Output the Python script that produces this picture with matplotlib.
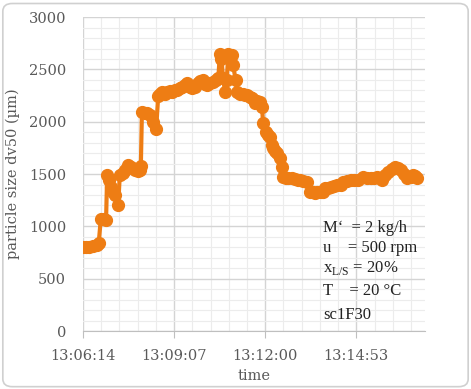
"""
Particle size dv50 over time, run sc1F30
"""
import numpy as np
import matplotlib.pyplot as plt
from matplotlib.patches import FancyBboxPatch
from matplotlib.ticker import MultipleLocator

# seconds after 13:06:14
t_sec = [0, 6, 12, 19, 26, 30, 34, 40, 44, 46, 50, 53, 57, 61, 67, 70, 76, 80, 86, 92,
         99, 104, 108, 110, 112, 117, 122, 127, 133, 139, 143, 147, 150, 155, 160, 165, 169, 174, 179, 184,
         188, 193, 198, 203, 208, 213, 218, 222, 228, 232, 236, 241, 247, 252, 257, 260, 263, 266, 270, 273,
         276, 279, 283, 285, 290, 293, 298, 303, 308, 312, 317, 321, 327, 331, 336, 340, 342, 347, 352, 355,
         358, 361, 365, 369, 374, 378, 380, 385, 390, 396, 403, 408, 413, 418, 426, 431, 436, 441, 445, 451,
         456, 460, 465, 470, 476, 483, 489, 494, 501, 508, 515, 523, 532, 539, 546, 552, 559, 564, 568, 574,
         580, 586, 593, 598, 603, 610, 616, 622, 627, 631, 635]
dv50 = [800, 800, 805, 810, 820, 840, 1070, 1070, 1065, 1490, 1440, 1380, 1330, 1300, 1200, 1490, 1510, 1540, 1585, 1570,
        1540, 1530, 1540, 1580, 2090, 2080, 2085, 2060, 2000, 1930, 2250, 2270, 2280, 2270, 2280, 2290, 2285, 2300, 2300, 2320,
        2330, 2350, 2370, 2330, 2320, 2330, 2370, 2390, 2400, 2360, 2350, 2370, 2380, 2400, 2420, 2645, 2600, 2420, 2280, 2400,
        2650, 2600, 2640, 2540, 2400, 2280, 2270, 2265, 2260, 2255, 2240, 2225, 2180, 2200, 2190, 2140, 1985, 1900, 1870, 1850,
        1780, 1750, 1720, 1700, 1650, 1565, 1470, 1465, 1460, 1460, 1455, 1445, 1440, 1430, 1425, 1330, 1325, 1320, 1330, 1330,
        1330, 1365, 1370, 1375, 1385, 1395, 1400, 1420, 1430, 1440, 1440, 1440, 1470, 1465, 1465, 1465, 1470, 1460, 1440, 1490,
        1520, 1550, 1570, 1560, 1540, 1500, 1460, 1470, 1490, 1480, 1460]

tick_sec = [0, 173, 346, 519]
tick_labels = ['13:06:14', '13:09:07', '13:12:00', '13:14:53']

info_lines = ["M\u2018  = 2 kg/h", "u    = 500 rpm", "x$_{\\mathregular{L/S}}$ = 20%", "T    = 20 \u00b0C", "sc1F30"]

plt.rcParams['font.family'] = 'DejaVu Serif'
txt_col = '#595959'

fig = plt.figure(figsize=(4.71, 3.89), dpi=100)
fig.patches.append(FancyBboxPatch((0.006, 0.006), 0.988, 0.985, boxstyle='round,pad=0,rounding_size=0.02',
                                  transform=fig.transFigure, facecolor='white', edgecolor='#d0d0d0',
                                  linewidth=1.2, zorder=-5))
ax = fig.add_axes([0.176, 0.149, 0.726, 0.807])
ax.set_facecolor('none')

ax.plot(t_sec, dv50, color='#EE7D14', linewidth=3, marker='o', markersize=8.5, zorder=3)

ax.set_xlim(0, 649)
ax.set_ylim(0, 3000)
ax.set_xticks(tick_sec)
ax.set_xticklabels(tick_labels)
ax.xaxis.set_minor_locator(MultipleLocator(173 / 5))
ax.yaxis.set_major_locator(MultipleLocator(500))
ax.yaxis.set_minor_locator(MultipleLocator(100))
ax.grid(True, which='major', color='#d4d4d4', linewidth=1)
ax.grid(True, which='minor', color='#ececec', linewidth=0.8)
ax.set_axisbelow(True)
for s in ['top', 'right', 'left']:
    ax.spines[s].set_visible(False)
ax.spines['bottom'].set_color('#bfbfbf')
ax.tick_params(axis='x', which='major', length=5, color='#bfbfbf', labelcolor=txt_col, labelsize=10.5, pad=8)
ax.tick_params(axis='y', which='major', length=0, labelcolor=txt_col, labelsize=10.5, pad=12)
ax.tick_params(which='minor', length=0)

ax.set_xlabel('time', color=txt_col, fontsize=10.5, labelpad=4)
ax.set_ylabel('particle size dv50 (\u00b5m)', color=txt_col, fontsize=10.5, labelpad=6)

ys = [228, 248, 268, 291, 315]
for line, yp in zip(info_lines, ys):
    fig.text(323 / 471, 1 - yp / 389, line, fontsize=12, color='#222222', va='center', ha='left',
             family='Liberation Serif')

fig.savefig('out.png', dpi=100)
